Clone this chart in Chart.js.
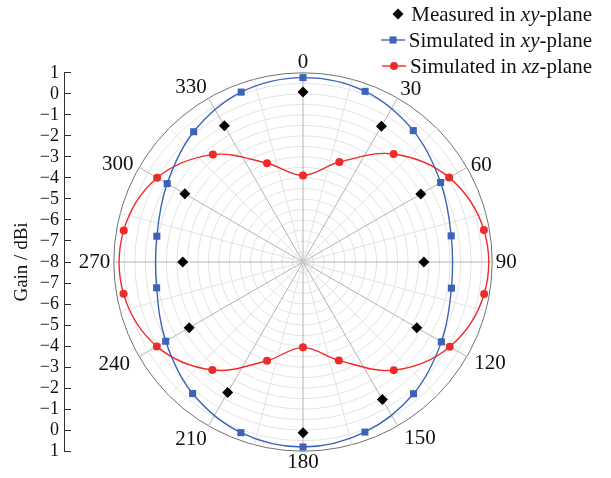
<!DOCTYPE html>
<html>
<head>
<meta charset="utf-8">
<script src="https://cdn.jsdelivr.net/npm/chart.js@4.4.1/dist/chart.umd.min.js"></script>
<style>
  html, body { margin: 0; padding: 0; background: #fff; }
  #wrap { position: relative; width: 611px; height: 478px; overflow: hidden; }
  #wrap canvas { position: absolute; left: 0; top: 0; }
  #legend { position: absolute; right: 19px; top: 1px; font-family: 'Liberation Serif', serif; font-size: 21px; color: #111; }
  #legend .row { display: flex; align-items: center; justify-content: flex-end; height: 26px; white-space: nowrap; }
  #legend svg { margin-right: 4px; }
</style>
</head>
<body>
<div id="wrap">
  <canvas id="polar" width="611" height="478"></canvas>
  <div id="legend"></div>
</div>
<script>
// Azimuth angles (degrees) of the sampled points
const simAngles  = [0, 20, 40, 60, 80, 100, 120, 140, 160, 180, 200, 220, 240, 260, 280, 300, 320, 340];
const measAngles = [0, 30, 60, 90, 120, 150, 180, 210, 240, 270, 300, 330];

// Gain in dBi
const simXY  = [0.77, 0.64, 0.16, -0.44, -0.84, -0.83, -0.40, 0.18, 0.61, 0.80, 0.64, 0.17, -0.46, -0.93, -0.94, -0.54, 0.09, 0.60];
const simXZ  = [-3.88, -2.94, -1.29, 0.03, 0.74, 0.75, 0.06, -1.28, -3.02, -3.94, -3.00, -1.29, 0.03, 0.67, 0.66, 0.01, -1.33, -3.00];
const measXY = [0.09, -0.54, -1.53, -2.25, -1.75, -0.45, 0.12, -0.83, -1.75, -2.28, -1.51, -0.52];

// Angle labels around the rim, and the gain scale read along the left axis (top to bottom)
const angleTicks = [0, 30, 60, 90, 120, 150, 180, 210, 240, 270, 300, 330];
const gainTicks  = [1, 0, -1, -2, -3, -4, -5, -6, -7, -8, -7, -6, -5, -4, -3, -2, -1, 0, 1];

const BLUE = '#3d63b8';
const RED = '#ee2a2a';
const BLACK = '#000000';
const SERIF = "'Liberation Serif', 'Times New Roman', serif";
const LABEL_SIZE = 21;

// Per-label gap from the rim and text box height (px), so each angle label sits snugly outside the circle
const labelPlacement = {
  0: { pad: 3.5, box: 14.3 },   30: { pad: 5.5, box: 6.9 },   60: { pad: 4.5, box: 0 },
  90: { pad: 3.5, box: 14.3 },  120: { pad: 8.5, box: 4.3 },  150: { pad: 13.5, box: 2 },
  180: { pad: 4.5, box: 14.3 }, 210: { pad: 3.5, box: 21.3 }, 240: { pad: 10.5, box: 4.3 },
  270: { pad: 3.5, box: 14.3 }, 300: { pad: 6.5, box: 0 },    330: { pad: 3.5, box: 14.3 }
};

// 5-degree spokes so every sampled angle and the 15-degree minor spokes land on a category
const STEP = 5;
const spokes = Array.from({ length: 360 / STEP }, (_, i) => i * STEP);
function onSpokes(angles, values) {
  const out = spokes.map(() => null);
  angles.forEach((a, i) => { out[a / STEP] = values[i]; });
  return out;
}
const fmtGain = (n) => (n < 0 ? '\u2212' + Math.abs(n) : String(n));
const placeOf = (c) => labelPlacement[spokes[c.index]];

const series = [
  { label: 'Measured in xy-plane', angles: measAngles, values: measXY, color: BLACK, style: 'rectRot', radius: 5.5, line: false },
  { label: 'Simulated in xy-plane', angles: simAngles, values: simXY, color: BLUE, style: 'rect', radius: 5, line: true },
  { label: 'Simulated in xz-plane', angles: simAngles, values: simXZ, color: RED, style: 'circle', radius: 4, line: true }
];

// Keep the left gain axis exactly as tall as the polar disc
const gainAxisSpan = {
  id: 'gainAxisSpan',
  afterLayout(chart) {
    const r = chart.scales.r, y = chart.scales.y;
    y.top = r.yCenter - r.drawingArea;
    y.bottom = r.yCenter + r.drawingArea;
    y.height = y.bottom - y.top;
    y.configure();
  }
};

new Chart(document.getElementById('polar'), {
  type: 'radar',
  data: {
    labels: spokes,
    datasets: series.map(s => ({
      label: s.label,
      data: onSpokes(s.angles, s.values),
      showLine: s.line,
      spanGaps: true,
      fill: false,
      tension: 0.35,
      borderColor: s.color,
      borderWidth: 1.4,
      backgroundColor: s.color,
      pointStyle: s.style,
      pointRadius: s.radius,
      pointHoverRadius: s.radius,
      pointBackgroundColor: s.color,
      pointBorderColor: s.color,
      pointBorderWidth: 0
    }))
  },
  options: {
    responsive: false,
    animation: false,
    events: [],
    layout: { padding: { left: 4, right: 77, top: 55, bottom: 7 } },
    plugins: { legend: { display: false }, tooltip: { enabled: false } },
    scales: {
      r: {
        min: -8,
        max: 1,
        startAngle: 0,
        ticks: { display: false, stepSize: 0.5 },
        grid: {
          circular: true,
          color: (c) => (c.tick && c.tick.value === 1 ? '#707070' : '#e3e3e3'),
          lineWidth: 1
        },
        angleLines: {
          color: (c) => (c.index % 6 === 0 ? '#b4b4b4' : '#e3e3e3'),
          lineWidth: (c) => (c.index % 3 === 0 ? 1 : 0)
        },
        pointLabels: {
          callback: (label) => (angleTicks.includes(label) ? String(label) : ''),
          font: (c) => {
            const p = placeOf(c);
            return { family: SERIF, size: LABEL_SIZE, lineHeight: p ? p.box / LABEL_SIZE : 0 };
          },
          padding: (c) => { const p = placeOf(c); return p ? p.pad : 3.5; },
          color: '#111'
        }
      },
      y: {
        type: 'linear',
        position: 'left',
        min: -9,
        max: 9,
        afterFit: (s) => { s.width = 60; s.paddingTop = 0; s.paddingBottom = 0; },
        ticks: {
          stepSize: 1,
          autoSkip: false,
          padding: 12,
          color: '#111',
          font: { family: SERIF, size: 18 },
          callback: (v) => fmtGain(gainTicks[9 - v])
        },
        grid: { drawOnChartArea: false, drawTicks: true, tickLength: -7, color: '#333', lineWidth: 1 },
        border: { display: true, color: '#333', width: 1 },
        title: { display: true, text: 'Gain / dBi', color: '#111', font: { family: SERIF, size: 19 }, padding: { top: 7, bottom: 0 } }
      }
    }
  },
  plugins: [gainAxisSpan]
});

// Legend: line + marker swatches beside the series names
function swatch(s) {
  const ns = 'http://www.w3.org/2000/svg';
  const svg = document.createElementNS(ns, 'svg');
  svg.setAttribute('width', '24');
  svg.setAttribute('height', '14');
  const cx = s.line ? 12 : 15, cy = 7;
  if (s.line) {
    const l = document.createElementNS(ns, 'line');
    l.setAttribute('x1', 0); l.setAttribute('x2', 24); l.setAttribute('y1', cy); l.setAttribute('y2', cy);
    l.setAttribute('stroke', s.color); l.setAttribute('stroke-width', 1.4);
    svg.appendChild(l);
  }
  let m;
  if (s.style === 'circle') {
    m = document.createElementNS(ns, 'circle');
    m.setAttribute('cx', cx); m.setAttribute('cy', cy); m.setAttribute('r', s.radius);
  } else if (s.style === 'rect') {
    const h = s.radius * Math.SQRT1_2;
    m = document.createElementNS(ns, 'rect');
    m.setAttribute('x', cx - h); m.setAttribute('y', cy - h); m.setAttribute('width', 2 * h); m.setAttribute('height', 2 * h);
  } else {
    const r = s.radius;
    m = document.createElementNS(ns, 'polygon');
    m.setAttribute('points', `${cx},${cy - r} ${cx + r},${cy} ${cx},${cy + r} ${cx - r},${cy}`);
  }
  m.setAttribute('fill', s.color);
  svg.appendChild(m);
  return svg;
}
const legend = document.getElementById('legend');
series.forEach(s => {
  const row = document.createElement('div');
  row.className = 'row';
  row.appendChild(swatch(s));
  const txt = document.createElement('span');
  const m = s.label.match(/^(.* in )(\w+)(-plane)$/);
  txt.append(m[1]);
  const it = document.createElement('i');
  it.textContent = m[2];
  txt.append(it, m[3]);
  row.appendChild(txt);
  legend.appendChild(row);
});
</script>
</body>
</html>
